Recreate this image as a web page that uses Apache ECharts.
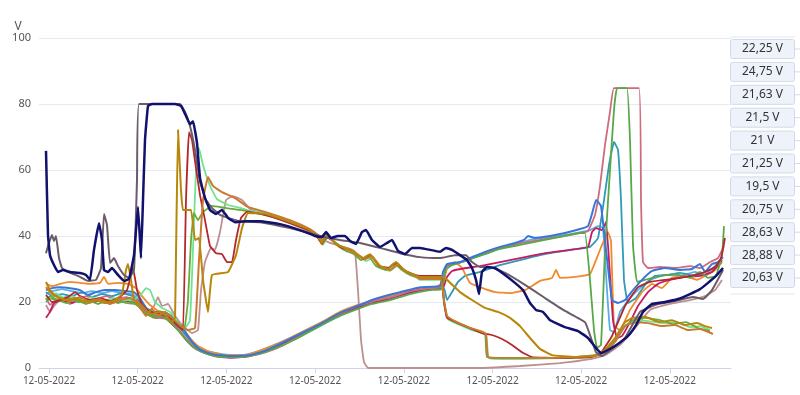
<!DOCTYPE html>
<html><head><meta charset="utf-8">
<script src="https://cdn.jsdelivr.net/npm/echarts@6/dist/echarts.min.js"></script>
<style>html,body{margin:0;padding:0;background:#fff}#c{width:800px;height:395px}</style>
</head><body><div id="c"></div>
<script>
// x = elapsed time units (tick every 88.7 units), y = volts
const tickValues = [0, 88.7, 177.4, 266.1, 354.8, 443.5, 532.2, 620.9];
const tickLabel = '12-05-2022';
const yTicks = [0, 20, 40, 60, 80, 100];
const boxLabels = ['22,25 V','24,75 V','21,63 V','21,5 V','21 V','21,25 V','19,5 V','20,75 V','28,63 V','28,88 V','20,63 V'];

const navy = [[-3,65.8],[-1,40.3],[1,34.2],[5,31.2],[9,29.1],[14,29.7],[21,29.1],[31,28.8],[37,28.2],[41,26.7],[45,35.8],[50,43.9],[53,38.8],[55,29.7],[59,29.1],[63,30.3],[69,28.2],[75,26.4],[80,27],[85,34.2],[89,48.8],[91,38.8],[92,33.3],[94,50.9],[96,69.1],[99,79.4],[103,80],[126,80],[132,79.4],[137,76.4],[141,73.9],[144,74.8],[148,68.2],[151,57.6],[156,51.5],[161,47.9],[167,46.7],[173,47.9],[179,45.5],[186,44.2],[196,44.5],[211,44.5],[231,43.6],[251,41.8],[266,40],[273,39.7],[277,41.2],[282,39.4],[289,40],[296,40],[301,38.5],[307,37.6],[313,41.2],[317,41.8],[323,38.8],[331,36.7],[338,37.9],[343,38.8],[349,35.5],[356,34.5],[363,36.4],[371,36.4],[391,35.2],[397,36.4],[403,35.8],[411,34.2],[418,32.7],[423,30.3],[427,26.7],[430,22.4],[433,29.1],[438,30.6],[446,30.3],[456,28.2],[466,25.8],[474,23.6],[481,19.7],[487,17.6],[494,17],[501,14.5],[507,13.6],[516,12.4],[529,11.2],[539,9.1],[547,6.1],[552,4.5],[559,5.5],[569,7.3],[579,9.7],[587,13],[594,17],[603,19.4],[616,20],[629,20.9],[641,22.4],[651,23.9],[659,25.8],[667,27.9],[674,30.3]];

const gray = [[-3,34.8],[0,37.9],[3,40.3],[5,38.5],[7,40],[10,33.3],[13,30.3],[19,29.1],[29,27.9],[39,26.4],[47,26.7],[52,30.3],[55,46.7],[58,43.3],[61,31.8],[65,33.3],[69,30.9],[75,28.2],[80,27.3],[85,29.7],[88,57],[90,80],[131,80],[136,77.6],[141,73.3],[146,66.1],[151,56.4],[157,50.9],[163,48.5],[171,46.4],[179,45.5],[191,44.5],[211,44.2],[241,42.4],[271,40],[291,38.8],[311,37.9],[331,36.4],[351,34.8],[371,33.6],[391,33.3],[406,34.2],[417,34.2],[423,32.1],[431,30.6],[441,30.6],[456,28.8],[476,25.2],[496,21.2],[516,17.3],[536,13.9],[542,9.1],[547,4.8],[553,3.6],[563,5.8],[576,9.1],[591,17],[606,19.1],[626,20.3],[644,21.5],[654,20.9],[663,23.6],[674,29.7]];

const gold = [[-3,26.1],[1,23.6],[7,21.8],[16,20.6],[26,21.2],[36,20],[46,20.6],[56,19.7],[66,20.6],[73,22.4],[77,29.7],[79,31.5],[82,26.7],[85,20.6],[91,19.4],[97,17.6],[103,16.4],[111,17],[117,15.8],[123,13.9],[126,15.2],[129,72.1],[132,53.9],[134,47.9],[142,47.9],[146,38.8],[150,39.4],[154,26.7],[159,17],[163,28.2],[179,29.1],[187,34.2],[193,42.4],[199,47],[216,46.7],[241,44.2],[261,41.8],[269,39.7],[273,37.9],[278,40.3],[284,38.5],[291,37],[299,36.1],[307,34.8],[314,33.3],[321,34.5],[329,31.2],[339,30],[347,32.1],[354,30],[363,28.5],[371,27.6],[392,27.6],[398,26.7],[411,23],[423,20.6],[436,18.2],[449,17],[461,15.2],[471,12.7],[481,9.1],[491,5.8],[503,3.9],[526,3.3],[546,3.9],[556,5.5],[566,9.1],[576,13.9],[584,15.2],[596,15.5],[611,13.9],[623,14.5],[636,13],[648,13.6],[656,12.7],[663,12.1]];

const copper = [[-3,24.5],[3,22.4],[11,21.2],[21,20.3],[31,21.5],[41,20],[51,20.9],[61,19.4],[71,20.6],[81,21.2],[89,19.4],[97,15.8],[103,17.9],[109,15.8],[116,17],[123,15.2],[131,13],[139,11.5],[146,12.1],[150,32.7],[154,50.9],[159,57.9],[164,55.2],[173,53.3],[186,51.5],[199,48.8],[216,47.3],[241,44.8],[261,42.1],[269,40.3],[273,38.5],[279,40],[286,37.9],[293,36.7],[301,35.5],[309,34.2],[316,33],[323,33.9],[331,30.9],[341,29.7],[349,31.5],[356,29.4],[365,28.2],[371,27],[392,27],[395,20.6],[398,15.8],[406,14.2],[419,12.4],[431,11.2],[437,10.3],[439,3.3],[461,3],[491,3],[521,3.3],[546,3.6],[556,4.8],[566,7.9],[576,12.7],[586,13.9],[599,13.6],[613,12.7],[626,13],[639,11.5],[651,11.8],[664,10.3]];

const firebrick = [[-3,22.1],[3,20],[11,20.6],[19,21.5],[26,23],[31,21.8],[41,20.6],[51,21.2],[61,20.3],[71,21.5],[78,23.6],[84,30.3],[88,23.6],[93,19.1],[101,17],[111,16.4],[121,15.2],[129,12.7],[134,11.5],[137,50.9],[140,71.5],[143,69.1],[147,60.6],[151,52.4],[156,44.8],[161,37],[167,34.8],[173,34.5],[178,32.1],[183,32.1],[187,38.8],[192,45.5],[198,47.3],[216,46.4],[241,43.9],[261,41.5],[269,39.4],[273,37.6],[278,39.7],[285,38.2],[293,36.4],[301,35.8],[308,34.5],[315,33],[322,34.2],[330,30.9],[340,30.3],[347,31.8],[355,29.7],[363,28.5],[371,27.9],[392,27.9],[395,20],[398,15.2],[409,13.6],[421,12.1],[433,10.6],[443,10],[453,8.8],[463,7],[473,4.8],[483,3.3],[511,3],[541,3.3],[551,4.2],[563,9.7],[576,18.8],[589,24.5],[601,26.1],[616,26.7],[631,27.3],[646,28.2],[656,29.1],[666,30.6],[672,33.3],[676,39.4]];

const lightgreen = [[-3,21.8],[1,21.2],[7,22.7],[15,21.2],[23,21.8],[33,20.6],[43,21.5],[53,20],[63,21.2],[73,20.6],[83,20.6],[91,21.8],[97,24.2],[101,23.6],[106,20],[113,18.2],[121,17],[129,13.9],[136,12.1],[141,14.5],[144,35.8],[147,60],[150,66.7],[154,61.5],[161,55.2],[168,51.2],[179,49.4],[191,48.5],[201,47.6],[216,47],[241,44.5],[261,41.8],[269,39.4],[274,37.3],[279,40],[287,37.9],[294,36.1],[301,35.2],[309,33.9],[317,32.4],[324,33.3],[331,30.3],[341,29.4],[349,31.2],[357,29.1],[365,27.9],[371,26.7],[392,26.7],[395,19.7],[399,14.8],[409,13.3],[423,11.5],[437,10],[440,3],[471,2.7],[511,3],[546,3.9],[557,5.5],[567,8.5],[577,13],[587,14.5],[599,14.2],[613,13.6],[627,13.9],[641,12.4],[651,12.7],[661,11.5]];

const green = [[-3,20.6],[1,21.8],[9,20.6],[17,19.7],[27,20.6],[37,19.4],[47,20.6],[57,19.7],[67,20.6],[77,19.7],[87,19.4],[95,17],[103,15.8],[111,17],[119,15.8],[127,13.3],[135,11.5],[139,20.6],[142,38.8],[145,47],[149,44.8],[154,47.3],[163,49.1],[176,48.5],[191,47.9],[206,47],[231,45.2],[256,42.4],[266,40.9],[272,38.2],[277,40.6],[283,38.8],[290,36.7],[297,35.5],[305,34.5],[312,32.7],[319,34.2],[327,30.9],[337,29.7],[345,31.8],[353,29.7],[361,28.2],[371,27.3],[392,27.3],[395,20.3],[398,15.5],[407,13.9],[421,12.1],[436,10.3],[438,3.3],[461,3],[501,3],[541,3.3],[554,4.8],[564,7.6],[574,12.1],[584,14.5],[596,15.2],[611,14.5],[624,13.3],[637,13.9],[649,12.1],[661,11.2]];

const rosybrown = [[-3,19.1],[1,17],[5,18.8],[11,20.6],[21,19.4],[31,20.9],[41,19.7],[51,21.2],[61,20],[71,20.9],[81,20],[91,19.1],[99,17],[105,18.8],[109,21.5],[113,18.8],[119,19.4],[126,15.8],[134,12.7],[143,10.6],[149,11.5],[152,23.6],[156,32.1],[162,36.4],[166,35.8],[171,41.2],[177,50.9],[184,52.1],[193,50.9],[201,48.2],[216,46.7],[241,43.9],[261,41.2],[271,39.4],[281,37.9],[291,37],[301,36.1],[306,35.2],[309,23.6],[312,8.5],[315,1.8],[319,0],[371,0],[431,0],[471,0.6],[511,1.5],[541,2.7],[556,3.9],[571,7],[586,12.1],[601,17.6],[621,19.4],[641,20.6],[656,21.8],[666,23.6],[673,26.7]];

const blue = [[-3,23.6],[3,24.2],[11,24.5],[21,24.2],[31,23.6],[39,22.1],[47,23],[56,23.6],[66,23.6],[76,23.3],[85,23],[91,21.2],[97,18.2],[104,17],[111,17],[119,16.4],[127,14.5],[135,11.5],[143,7.9],[151,5.5],[163,4.2],[181,3.6],[201,3.9],[216,5.2],[231,7.3],[251,10.3],[271,13.3],[291,16.7],[311,19.1],[323,20.6],[336,21.8],[351,23],[371,24.5],[391,24.8],[394,29.1],[398,31.5],[411,32.1],[423,33.6],[436,35.2],[451,36.7],[466,37.9],[475,38.8],[479,40],[486,39.4],[501,40],[516,40.9],[531,42.1],[539,43],[543,46.7],[547,50.9],[552,49.1],[557,35.8],[563,20.6],[569,19.7],[576,20.6],[584,23.6],[593,26.7],[603,29.4],[616,30.3],[631,29.7],[643,30],[651,31.5],[656,29.1],[663,31.5],[669,32.1],[674,33.6]];

const teal = [[-3,23],[3,21.8],[13,22.4],[23,21.8],[33,23],[43,21.5],[53,22.4],[63,21.8],[73,22.7],[83,21.8],[91,20],[99,17],[107,15.8],[115,16.1],[123,14.5],[131,12.1],[139,9.1],[147,6.4],[157,4.8],[171,3.9],[191,3.6],[209,4.5],[226,6.4],[246,9.4],[269,12.7],[291,16.1],[309,18.5],[323,19.7],[341,21.2],[361,23],[381,24.2],[395,24.2],[398,20.6],[403,23],[409,26.1],[416,27.9],[431,29.1],[451,31.2],[471,32.7],[496,34.5],[521,35.8],[541,36.7],[549,39.4],[555,50.9],[560,61.5],[565,68.5],[569,66.1],[572,50.9],[575,26.7],[579,19.7],[587,21.2],[596,25.2],[606,27.9],[619,28.2],[631,28.8],[646,27.9],[656,29.1],[666,30.3],[673,32.1]];

const green2 = [[-3,20],[1,21.2],[9,20.3],[19,21.2],[29,20],[39,20.6],[49,19.4],[59,20.6],[69,19.7],[79,20.6],[89,18.8],[97,16.4],[105,15.2],[113,15.8],[121,13.9],[129,11.5],[137,8.5],[145,6.1],[156,4.5],[171,3.3],[191,3.3],[209,4.2],[227,6.1],[247,8.8],[269,12.4],[291,15.8],[309,17.9],[323,19.4],[341,20.6],[361,22.4],[381,23.6],[393,23.9],[397,30.3],[406,31.5],[421,33],[436,34.5],[451,36.1],[471,37.3],[491,38.5],[511,39.7],[529,40.9],[536,40.9],[541,26.7],[545,11.5],[548,6.1],[552,7],[556,35.8],[561,60],[565,78.2],[568,84.8],[578,84.8],[581,69.1],[584,37.3],[588,26.1],[596,26.7],[611,27.9],[626,28.5],[641,27.3],[651,29.1],[659,27.3],[667,27.9],[673,34.2],[675,43]];

const pink = [[-3,21.2],[1,19.1],[7,20.6],[17,21.5],[27,20.6],[37,21.8],[47,20.9],[57,21.8],[67,20.9],[77,21.5],[87,20.6],[95,17.6],[103,16.1],[111,15.2],[119,14.8],[127,12.7],[135,9.7],[143,7],[151,5.2],[165,3.6],[183,3],[201,3.6],[217,4.8],[233,6.7],[251,9.7],[271,13],[291,16.4],[309,18.8],[325,20.3],[343,21.5],[361,23.3],[381,24.2],[393,24.5],[397,30.9],[409,31.8],[423,33.3],[439,35.2],[456,36.7],[473,37.9],[491,38.8],[509,39.7],[526,40.6],[539,41.5],[546,46.4],[551,55.2],[556,67.6],[561,77.6],[565,84.8],[590,84.8],[592,50.9],[594,32.1],[599,30.3],[611,30.6],[626,30.3],[641,30.9],[651,30.3],[661,32.1],[669,33.3],[675,37]];

const crimson = [[-3,15.2],[1,17],[5,19.7],[13,20.6],[23,19.7],[33,20.9],[43,20],[53,20.6],[63,19.7],[73,20.6],[83,20],[91,18.8],[99,16.4],[107,15.2],[115,15.5],[123,13.3],[131,10.9],[139,7.9],[147,5.8],[159,4.2],[175,3.3],[195,3.3],[211,4.5],[229,6.7],[249,9.7],[271,13],[289,15.8],[307,18.2],[323,19.7],[343,21.2],[363,23],[383,23.9],[394,24.2],[398,27.6],[403,29.4],[417,30.3],[431,30.9],[451,32.1],[471,33.3],[496,34.8],[521,35.8],[539,36.7],[543,41.2],[547,42.4],[553,41.8],[557,44.2],[560,32.7],[564,14.5],[568,9.1],[573,9.7],[581,13.9],[589,18.8],[599,23],[609,25.5],[621,26.7],[636,27.6],[651,27.9],[663,29.1],[673,32.7]];

const orange = [[-3,25.5],[3,24.8],[11,25.5],[21,26.1],[31,25.8],[41,25.5],[51,25.8],[55,27.6],[59,25.5],[69,25.8],[79,25.5],[87,24.2],[93,21.8],[101,19.1],[109,17.3],[117,16.7],[125,15.2],[133,12.4],[141,9.1],[149,6.7],[161,4.8],[177,3.9],[197,3.9],[213,5.5],[231,7.6],[251,10.6],[271,13.6],[291,17],[309,19.1],[326,20.6],[346,22.4],[366,23.6],[386,24.5],[394,25.8],[399,31.2],[406,32.1],[413,30.3],[421,25.8],[431,24.5],[446,23],[461,22.7],[476,23.6],[491,26.4],[503,27.3],[507,29.7],[511,27.3],[526,27.6],[541,28.5],[547,32.7],[553,37.3],[559,41.2],[562,38.5],[565,12.7],[571,11.5],[581,17.6],[593,23],[603,25.5],[613,24.2],[623,27.3],[636,27.9],[648,26.7],[656,27.9],[666,29.7],[673,32.1]];

const lightblue = [[-3,22.4],[3,23.3],[13,23.9],[23,23.3],[33,22.7],[43,23.3],[53,22.7],[63,23.3],[73,22.7],[83,22.4],[91,20.6],[99,17.6],[107,16.4],[115,16.7],[123,15.2],[131,12.7],[139,9.7],[147,7],[157,5.2],[173,4.2],[193,3.9],[207,4.8],[223,6.7],[243,9.4],[265,12.7],[287,16.1],[307,18.8],[321,20.3],[339,21.5],[359,23.3],[379,24.5],[393,24.8],[397,29.7],[403,31.2],[416,32.4],[431,34.2],[446,35.8],[461,37],[481,38.8],[501,39.7],[521,40.6],[541,41.8],[549,43],[554,42.4],[558,23.6],[561,11.5],[565,10.9],[571,17],[581,21.2],[591,24.2],[601,26.7],[616,28.2],[631,27.9],[646,29.1],[656,28.2],[666,30.9],[673,33.3]];

const seriesDefs = [
  ['rosybrown', rosybrown, '#bc9090', 1.8],
  ['lightblue', lightblue, '#5aaee6', 1.8],
  ['teal', teal, '#2f9ab7', 1.8],
  ['orange', orange, '#f08a2a', 1.8],
  ['crimson', crimson, '#c51b63', 1.8],
  ['pink', pink, '#cf6b7e', 1.8],
  ['green2', green2, '#59a847', 1.8],
  ['blue', blue, '#3a76d6', 2],
  ['lightgreen', lightgreen, '#6fe391', 1.8],
  ['green', green, '#6aaa3a', 1.8],
  ['firebrick', firebrick, '#b3282d', 1.8],
  ['copper', copper, '#c97a32', 2],
  ['gold', gold, '#b8860b', 2],
  ['gray', gray, '#6b5b6b', 2],
  ['navy', navy, '#11116e', 2.5]
];

const chart = echarts.init(document.getElementById('c'), null, {renderer: 'canvas'});

const graphics = [];
graphics.push({type: 'line', shape: {x1: 730, y1: 37, x2: 795, y2: 37}, style: {stroke: '#e1e7f0', lineWidth: 1}, silent: true});
boxLabels.forEach(function (t, i) {
  const cy = 49 + i * 22.9;
  graphics.push({type: 'rect', shape: {x: 730.5, y: cy - 9.5, width: 64, height: 19, r: 2},
    style: {fill: '#eef3fb', stroke: '#d3dae6', lineWidth: 1}, silent: true});
  graphics.push({type: 'text', x: 762.5, y: cy, style: {text: t, fill: '#333', font: '12px "Noto Sans", sans-serif', textAlign: 'center', textVerticalAlign: 'middle'}, silent: true});
  graphics.push({type: 'line', shape: {x1: 795, y1: cy, x2: 800, y2: cy}, style: {stroke: '#d3dae6', lineWidth: 1}, silent: true});
});
graphics.push({type: 'line', shape: {x1: 730, y1: 294, x2: 795, y2: 294}, style: {stroke: '#e1e7f0', lineWidth: 1}, silent: true});

chart.setOption({
  animation: false,
  grid: {left: 39, right: 69, top: 38, bottom: 27},
  xAxis: {
    type: 'value', min: -10, max: 682,
    axisLine: {lineStyle: {color: '#ccd6e6'}},
    axisTick: {customValues: tickValues, lineStyle: {color: '#ccd6e6'}, length: 5},
    axisLabel: {customValues: tickValues, formatter: function () { return tickLabel; }, color: '#555', fontSize: 10, margin: 8, fontFamily: '"Noto Sans", sans-serif'},
    splitLine: {show: false}
  },
  yAxis: {
    type: 'value', min: 0, max: 100, interval: 20,
    name: 'V', nameGap: 4, nameTextStyle: {color: '#555', fontSize: 12, padding: [0, 62, 0, 0], fontFamily: '"Noto Sans", sans-serif'},
    axisLine: {show: false}, axisTick: {show: false},
    axisLabel: {color: '#555', fontSize: 11, margin: 8, fontFamily: '"Noto Sans", sans-serif'},
    splitLine: {lineStyle: {color: '#e3eaf3'}}
  },
  series: seriesDefs.map(function (d) {
    return {name: d[0], type: 'line', data: d[1], showSymbol: false, symbol: 'none', smooth: 0.1,
      lineStyle: {color: d[2], width: d[3]}, itemStyle: {color: d[2]}};
  }),
  graphic: graphics
});
</script>
</body></html>
